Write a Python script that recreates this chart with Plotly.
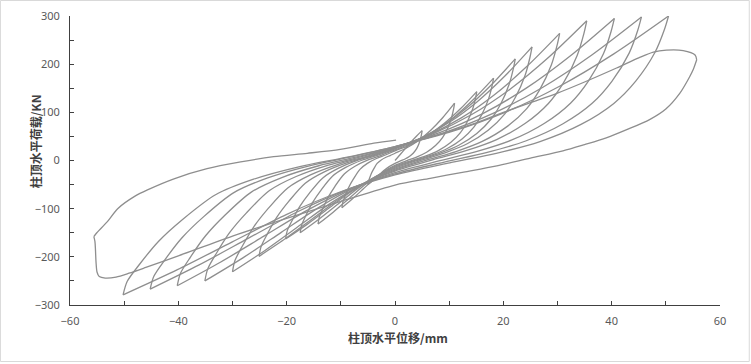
import plotly.graph_objects as go

# Hysteresis path, cycle by cycle (displacement mm, load kN)
cyc01_x = [0, 1, 2, 3, 4, 5, 4.93, 4.75, 4.4, 4.0, 3.4, 2.65, 1.85, 1.0, 0, -1, -2, -3, -4, -5, -4.93, -4.7, -4.35, -3.9, -3.3, -2.6, -1.75, -0.9]
cyc01_y = [0, 13, 26, 39, 51, 62, 56.2, 46.4, 34.1, 24.6, 15.6, 8.3, 3.2, -0.8, -6, -12.2, -20.5, -30.6, -40.8, -50, -44.2, -36.7, -26.6, -16.9, -6.1, 0.7, 6.2, 10.3]

cyc02_x = [0, 2.2, 4.4, 6.6, 8.8, 11, 10.84, 10.45, 9.68, 8.8, 7.48, 5.83, 4.07, 2.2, 0, -1.96, -3.92, -5.88, -7.84, -9.8, -9.65, -9.21, -8.53, -7.64, -6.47, -5.1, -3.43, -1.76]
cyc02_y = [15, 26.4, 42.0, 62.8, 88.8, 119, 108.0, 89.3, 66.1, 48.1, 31.0, 17.1, 7.5, -0.2, -10, -22.3, -39.0, -59.3, -79.5, -98, -87.4, -73.8, -55.5, -37.8, -18.4, -6.0, 4.1, 11.4]

cyc03_x = [0, 3.02, 6.04, 9.06, 12.08, 15.1, 14.87, 14.35, 13.29, 12.08, 10.27, 8.0, 5.59, 3.02, 0, -2.84, -5.68, -8.52, -11.36, -14.2, -13.99, -13.35, -12.35, -11.08, -9.37, -7.38, -4.97, -2.56]
cyc03_y = [20, 33.5, 52.0, 76.6, 107.3, 143, 129.8, 107.4, 79.5, 57.8, 37.3, 20.6, 9.1, -0.2, -12, -28.8, -51.6, -79.2, -106.8, -132, -118.1, -100.4, -76.6, -53.5, -28.1, -11.9, 1.2, 10.8]

cyc04_x = [0, 3.64, 7.28, 10.92, 14.56, 18.2, 17.93, 17.29, 16.02, 14.56, 12.38, 9.65, 6.73, 3.64, 0, -3.5, -7, -10.5, -14, -17.5, -17.24, -16.45, -15.23, -13.65, -11.55, -9.1, -6.13, -3.15]
cyc04_y = [22, 38.4, 60.7, 90.5, 127.8, 171, 155.3, 128.5, 95.2, 69.3, 44.8, 24.9, 11.2, 0.1, -14, -33.0, -58.9, -90.2, -121.4, -150, -134.3, -114.3, -87.4, -61.3, -32.6, -14.3, 0.5, 11.3]

cyc05_x = [0, 4.44, 8.88, 13.32, 17.76, 22.2, 21.87, 21.09, 19.54, 17.76, 15.1, 11.77, 8.21, 4.44, 0, -4.04, -8.08, -12.12, -16.16, -20.2, -19.9, -18.99, -17.57, -15.76, -13.33, -10.5, -7.07, -3.64]
cyc05_y = [24, 44.6, 72.6, 110.0, 156.8, 211, 191.7, 158.8, 117.9, 86.2, 56.2, 31.7, 14.9, 1.3, -16, -36.6, -64.5, -98.3, -132.1, -163, -146.1, -124.5, -95.3, -67.1, -36.1, -16.4, -0.4, 11.3]

cyc06_x = [0, 5.06, 10.12, 15.18, 20.24, 25.3, 24.92, 24.04, 22.26, 20.24, 17.2, 13.41, 9.36, 5.06, 0, -5.02, -10.04, -15.06, -20.08, -25.1, -24.72, -23.59, -21.84, -19.58, -16.57, -13.05, -8.79, -4.52]
cyc06_y = [25, 48.2, 79.9, 122.1, 174.8, 236, 214.4, 177.6, 131.9, 96.3, 62.8, 35.3, 16.5, 1.3, -18, -43.3, -77.7, -119.4, -161.0, -199, -178.8, -152.9, -118.0, -84.3, -47.1, -23.5, -4.4, 9.6]

cyc07_x = [0, 6.08, 12.16, 18.24, 24.32, 30.4, 29.94, 28.88, 26.75, 24.32, 20.67, 16.11, 11.25, 6.08, 0, -6, -12, -18, -24, -30, -29.55, -28.2, -26.1, -23.4, -19.8, -15.6, -10.5, -5.4]
cyc07_y = [26, 52.2, 87.9, 135.5, 195.0, 264, 239.9, 198.7, 147.6, 107.8, 70.3, 39.6, 18.6, 1.6, -20, -49.5, -89.6, -138.2, -186.7, -231, -207.8, -178.1, -138.1, -99.4, -56.9, -29.8, -7.8, 8.2]

cyc08_x = [0, 7.08, 14.16, 21.24, 28.32, 35.4, 34.87, 33.63, 31.15, 28.32, 24.07, 18.76, 13.1, 7.08, 0, -7.02, -14.04, -21.06, -28.08, -35.1, -34.57, -32.99, -30.54, -27.38, -23.17, -18.25, -12.29, -6.32]
cyc08_y = [27, 55.9, 95.4, 148.0, 213.7, 290, 263.5, 218.2, 162.1, 118.4, 77.2, 43.5, 20.4, 1.7, -22, -53.9, -97.2, -149.7, -202.1, -250, -225.0, -193.0, -149.9, -108.2, -62.4, -33.2, -9.5, 7.7]

cyc09_x = [0, 8.1, 16.2, 24.3, 32.4, 40.5, 39.89, 38.48, 35.64, 32.4, 27.54, 21.47, 14.99, 8.1, 0, -8.04, -16.08, -24.12, -32.16, -40.2, -39.6, -37.79, -34.97, -31.36, -26.53, -20.9, -14.07, -7.24]
cyc09_y = [28, 57.4, 97.4, 150.8, 217.6, 295, 267.8, 221.4, 163.8, 119.0, 76.8, 42.2, 18.5, -0.7, -25, -57.9, -102.6, -156.6, -210.7, -260, -234.1, -201.0, -156.3, -113.1, -65.6, -35.4, -10.9, 7.0]

cyc10_x = [0, 9.1, 18.2, 27.3, 36.4, 45.5, 44.82, 43.23, 40.04, 36.4, 30.94, 24.12, 16.84, 9.1, 0, -9.04, -18.08, -27.12, -36.16, -45.2, -44.52, -42.49, -39.32, -35.26, -29.83, -23.5, -15.82, -8.14]
cyc10_y = [28, 57.7, 98.2, 152.2, 219.7, 298, 270.3, 223.0, 164.3, 118.7, 75.7, 40.5, 16.3, -3.2, -28, -61.5, -106.9, -161.8, -216.8, -267, -240.4, -206.3, -160.4, -116.0, -67.2, -36.1, -11.0, 7.4]

cyc11_x = [0, 10.1, 20.2, 30.3, 40.4, 50.5, 49.74, 47.98, 44.44, 40.4, 34.34, 26.77, 18.69, 10.1, 0, -10.04, -20.08, -30.12, -40.16, -50.2, -49.45, -47.19, -43.67, -39.16, -33.13, -26.1, -17.57, -9.04]
cyc11_y = [29, 58.8, 99.5, 153.7, 221.4, 300, 272.0, 224.1, 164.7, 118.5, 74.9, 39.3, 14.9, -4.9, -30, -64.9, -112.2, -169.4, -226.7, -279, -251.3, -215.9, -168.1, -121.9, -71.1, -38.8, -12.6, 6.5]

cyc12_x = [0, 5, 10, 15, 20, 25, 30, 35, 40.9, 45, 47.7, 50.1, 53.2, 55.4, 55.7, 55.1, 54.4, 52.6, 50, 47, 43, 39, 35, 31, 25, 18.8, 12.7, 6.5, 0,
           -10, -20, -30, -40, -46, -49.1, -51.5, -53.5, -54.6, -55.0, -55.2, -55.3, -55.4, -55.6,
           -55.2, -53.1, -51.2, -48, -45.7, -40.8, -34.7, -28.5, -22.4, -16.2, -10.1, -3.9, 0.2]
cyc12_y = [29, 44, 60, 78, 100, 120, 140, 163, 192, 213, 225, 229, 228, 219, 209, 190, 174, 140, 107, 85, 65, 47, 33, 20, 5, -11, -24, -37, -51,
           -85, -120, -157, -198, -222, -234, -242, -244, -241, -232, -210, -185, -168, -158,
           -152, -127, -100, -74, -61, -38, -17, -3, 8, 15, 23, 36, 42.5]

x_title = '柱顶水平位移/mm'
y_title = '柱顶水平荷载/KN'

cycles = [(cyc01_x, cyc01_y), (cyc02_x, cyc02_y), (cyc03_x, cyc03_y), (cyc04_x, cyc04_y),
          (cyc05_x, cyc05_y), (cyc06_x, cyc06_y), (cyc07_x, cyc07_y), (cyc08_x, cyc08_y),
          (cyc09_x, cyc09_y), (cyc10_x, cyc10_y), (cyc11_x, cyc11_y), (cyc12_x, cyc12_y)]

px, py = [], []
for cx, cy in cycles:
    for a, b in zip(cx, cy):
        if px and a == px[-1] and b == py[-1]:
            continue
        px.append(a)
        py.append(b)

# split the path where the displacement reverses so peaks stay sharp
segs = []
start = 0
for i in range(1, len(px) - 1):
    if (px[i] - px[i - 1]) * (px[i + 1] - px[i]) < 0:
        segs.append((start, i))
        start = i
segs.append((start, len(px) - 1))

fig = go.Figure()
for s, e in segs:
    fig.add_trace(go.Scatter(
        x=px[s:e + 1], y=py[s:e + 1], mode='lines',
        line=dict(color='#8e8e8e', width=1.3, shape='spline', smoothing=0.8),
        hoverinfo='skip', showlegend=False))

axis_col = '#404040'
tick_font = dict(family='Noto Sans, Liberation Sans, sans-serif', size=11, color='#595959')
title_font = dict(family='Noto Sans CJK SC, sans-serif', size=12, color='#404040')

fig.update_layout(
    width=751, height=364,
    margin=dict(l=70, r=31, t=16, b=59, autoexpand=False),
    paper_bgcolor='white', plot_bgcolor='white',
    showlegend=False,
)
fig.update_xaxes(
    range=[-60, 60], tick0=0, dtick=20, showgrid=False, zeroline=False,
    showline=True, linecolor=axis_col, linewidth=1,
    ticks='inside', ticklen=4, tickcolor=axis_col,
    minor=dict(dtick=10, ticks='inside', ticklen=4, tickcolor=axis_col, showgrid=False),
    tickfont=tick_font, ticklabelstandoff=6, automargin=False,
)
fig.update_yaxes(
    range=[-300, 300], tick0=0, dtick=100, showgrid=False, zeroline=False,
    showline=True, linecolor=axis_col, linewidth=1,
    ticks='inside', ticklen=4, tickcolor=axis_col,
    minor=dict(dtick=50, ticks='inside', ticklen=4, tickcolor=axis_col, showgrid=False),
    tickfont=tick_font, ticklabelstandoff=7, automargin=False,
)
fig.add_annotation(text='<b>' + x_title + '</b>', xref='paper', yref='paper',
                   x=0.5046, y=-0.114, xanchor='center', yanchor='middle',
                   showarrow=False, font=title_font)
fig.add_annotation(text='<b>' + y_title + '</b>', xref='paper', yref='paper',
                   x=-0.0538, y=0.567, xanchor='center', yanchor='middle',
                   textangle=-90, showarrow=False, font=title_font)
fig.add_shape(type='rect', xref='paper', yref='paper',
              x0=-0.107, x1=1.045, y0=-0.1955, y1=1.0536,
              line=dict(color='#d9d9d9', width=1), fillcolor='rgba(0,0,0,0)', layer='below')

fig.write_html('out.html', config={'displayModeBar': False, 'staticPlot': True},
               post_script="document.body.style.margin='0';document.body.style.padding='0';")
